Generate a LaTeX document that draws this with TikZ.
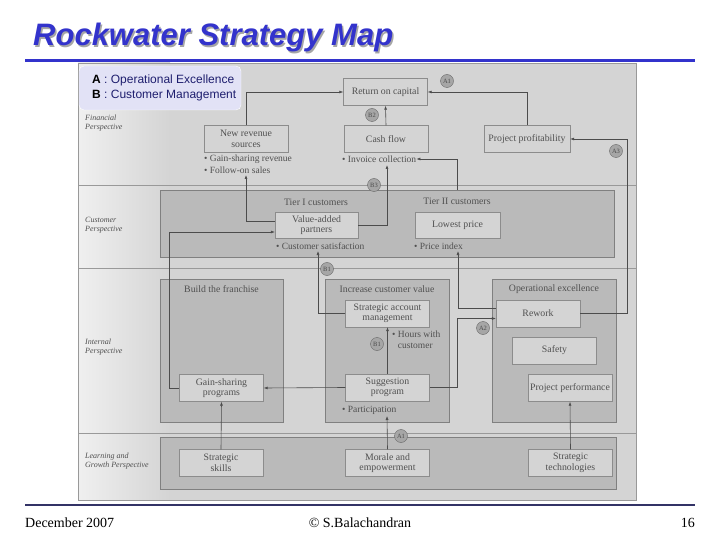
\documentclass[tikz,border=0pt]{standalone}
\usepackage{fontspec}
\setmainfont{Liberation Serif}
\newfontfamily\arialfont{Liberation Sans}
\usepackage{tikz}
\usetikzlibrary{arrows.meta,calc,patterns}
\definecolor{titleblue}{RGB}{51,51,204}
\definecolor{legendfill}{RGB}{226,226,246}
\definecolor{legendtext}{RGB}{30,30,110}
\definecolor{navyline}{RGB}{51,51,102}
\definecolor{scanbg}{RGB}{212,212,212}
\definecolor{groupbg}{RGB}{186,186,186}
\definecolor{boxbg}{RGB}{212,212,212}
\definecolor{scantext}{RGB}{80,80,80}
\tikzset{
	box/.style={draw=black!45, fill=boxbg, minimum width=84pt, minimum height=27pt, inner sep=1pt,
		align=center, text=scantext, font=\fontsize{9.8}{10.5}\selectfont},
	group/.style={draw=black!50, fill=groupbg},
	grouptitle/.style={text=scantext, font=\fontsize{9.8}{10.5}\selectfont},
	bullet/.style={anchor=west, inner sep=0pt, align=left, text=scantext, font=\fontsize{9.5}{11}\selectfont},
	persp/.style={anchor=west, inner sep=0pt, align=left, text=scantext, font=\itshape\fontsize{8}{9.5}\selectfont},
	link/.style={draw=black!70, line width=0.6pt, -{Latex[length=4pt,width=3pt]}},
	tag/.style={circle, draw=black!60, fill=black!35, inner sep=0pt, minimum size=13pt,
		text=black!70, font=\fontsize{6.5}{7}\selectfont}
}

\begin{document}
\begin{tikzpicture}[x=1pt, y=-1pt]
		%%%%% START %%%%%
		\useasboundingbox (0,0) rectangle (720,540);
		
		% slide title and rules
		\node[anchor=base west, inner sep=0pt, text=black!35, font=\arialfont\bfseries\itshape\fontsize{31}{31}\selectfont] (titleshadow) at (34.5,47.5) {Rockwater Strategy Map};
		\node[anchor=base west, inner sep=0pt, text=titleblue, font=\arialfont\bfseries\itshape\fontsize{31}{31}\selectfont] (title) at (33,46) {Rockwater Strategy Map};
		\draw[titleblue, line width=3pt] (25,61) -- (695,61);
		\draw[navyline, line width=1.2pt] (25,505) -- (695,505);
		
		% scanned page
		\fill[scanbg] (78,63) rectangle (636,500);
		\shade[left color=black!6, right color=scanbg] (78,63) rectangle (170,500);
		\draw[black!40] (78,63) rectangle (636,500);
		\draw[black!40] (78,185) -- (636,185);
		\draw[black!40] (78,268) -- (636,268);
		\draw[black!40] (78,433) -- (636,433);
		
		% perspective labels
		\node[persp] (fin) at (85,123) {Financial\\Perspective};
		\node[persp] (cust) at (85,225) {Customer\\Perspective};
		\node[persp] (intp) at (85,347) {Internal\\Perspective};
		\node[persp] (learn) at (85,461) {Learning and\\Growth Perspective};
		
		% financial
		\node[box] (roc) at (385.5,92) {Return on capital};
		\node[box] (nrs) at (246,139) {New revenue\\sources};
		\node[box] (cash) at (386,139) {Cash flow};
		\node[box, minimum width=86pt] (pp) at (527,139) {Project profitability};
		\node[bullet] (gsr) at (204,159) {\textbullet\ Gain-sharing revenue};
		\node[bullet] (fos) at (204,170) {\textbullet\ Follow-on sales};
		\node[bullet] (inv) at (342,159) {\textbullet\ Invoice collection};
		
		% customer
		\draw[group] (160,190) rectangle (614,257);
		\node[grouptitle] (tierone) at (316,202) {Tier I customers};
		\node[grouptitle] (tiertwo) at (457,201) {Tier II customers};
		\node[box, minimum width=83pt, minimum height=26pt] (vap) at (316.5,225) {Value-added\\partners};
		\node[box, minimum width=85pt, minimum height=26pt] (lp) at (457.5,225) {Lowest price};
		\node[bullet] (csat) at (276,246) {\textbullet\ Customer satisfaction};
		\node[bullet] (pidx) at (414,246) {\textbullet\ Price index};
		
		% internal
		\draw[group] (160,279) rectangle (283,422);
		\draw[group] (325,279) rectangle (449,422);
		\draw[group] (492,279) rectangle (616,422);
		\node[grouptitle] (franchise) at (221.5,289) {Build the franchise};
		\node[grouptitle] (custvalue) at (387,289) {Increase customer value};
		\node[grouptitle] (opex) at (554,289) {Operational excellence};
		\node[box] (gsp) at (221.5,388) {Gain-sharing\\programs};
		\node[box] (sam) at (387.5,313.5) {Strategic account\\management};
		\node[box] (sp) at (387.5,387.5) {Suggestion\\program};
		\node[bullet] (hours) at (392,340) {\textbullet\ Hours with\\\phantom{\textbullet\ }customer};
		\node[bullet] (part) at (342,410) {\textbullet\ Participation};
		\node[box] (rework) at (538,313.5) {Rework};
		\node[box] (safety) at (554.5,350.5) {Safety};
		\node[box] (ppf) at (570,388) {Project performance};
		
		% learning and growth
		\draw[group] (160,437) rectangle (616,489);
		\node[box] (skills) at (221,463) {Strategic\\skills};
		\node[box] (morale) at (387.5,463) {Morale and\\empowerment};
		\node[box] (tech) at (570.5,463) {Strategic\\technologies};
		
		% free ends
		\coordinate (fosend) at (246,175);
		\coordinate (invend) at (387,165);
		\coordinate (tiertop) at (457,190);
		\coordinate (csatend) at (318,251);
		\coordinate (pidxend) at (458,251);
		\coordinate (partend) at (387,416);
		
		% links
		\draw[link] (nrs.north) |- (roc.west);
		\draw[link] (cash.north) -- (roc.south);
		\draw[link] (pp.north) |- (roc.east);
		\draw[link] (rework.east) -- ++(47,0) |- (pp.east);
		\draw[link] (tiertop) |- (inv.east);
		\draw[link] (vap.east) -| (invend);
		\draw[link] ([yshift=4pt]vap.west) -| (fosend);
		\draw[link] (gsp.west) -- ++(-10,0) |- ([yshift=-7pt]vap.west);
		\draw[link] (sam.west) -| (csatend);
		\draw[link] ([yshift=5pt]rework.west) -| (pidxend);
		\draw[link] (sp.east) -- ++(28,0) |- ([yshift=-5pt]rework.west);
		\draw[link] (sp.west) -- (gsp.east);
		\draw[link] (sp.north) -- (sam.south);
		\draw[link] (skills.north) -- (gsp.south);
		\draw[link] (morale.north) -- (partend);
		\draw[link] (tech.north) -- (ppf.south);
		
		% tags
		\node[tag] (tagaone) at (447,81) {A1};
		\node[tag] (tagbtwo) at (372,115) {B2};
		\node[tag] (tagathree) at (616,151) {A3};
		\node[tag] (tagbthree) at (374,185) {B3};
		\node[tag] (tagbfour) at (327,269) {B1};
		\node[tag] (tagatwo) at (483,328) {A2};
		\node[tag] (tagbone) at (377,344) {B1};
		\node[tag] (tagafour) at (401,436) {A1};
		
		% legend
		\draw[rounded corners=5pt, draw=white, fill=legendfill] (79,66) rectangle (241,110);
		\node[anchor=base west, inner sep=0pt, font=\arialfont\fontsize{12}{12}\selectfont] (lega) at (92,84) {\textbf{A}\textcolor{legendtext}{\ : Operational Excellence}};
		\node[anchor=base west, inner sep=0pt, font=\arialfont\fontsize{12}{12}\selectfont] (legb) at (92,99) {\textbf{B}\textcolor{legendtext}{\ : Customer Management}};
		
		% footer
		\node[anchor=base west, inner sep=0pt, font=\fontsize{14}{14}\selectfont] (date) at (25,527) {December 2007};
		\node[anchor=base, inner sep=0pt, font=\fontsize{14}{14}\selectfont] (author) at (360,527) {\textcopyright\ S.Balachandran};
		\node[anchor=base east, inner sep=0pt, font=\fontsize{14}{14}\selectfont] (page) at (695,527) {16};
		%%%%% END %%%%%
	\end{tikzpicture}
\end{document}
